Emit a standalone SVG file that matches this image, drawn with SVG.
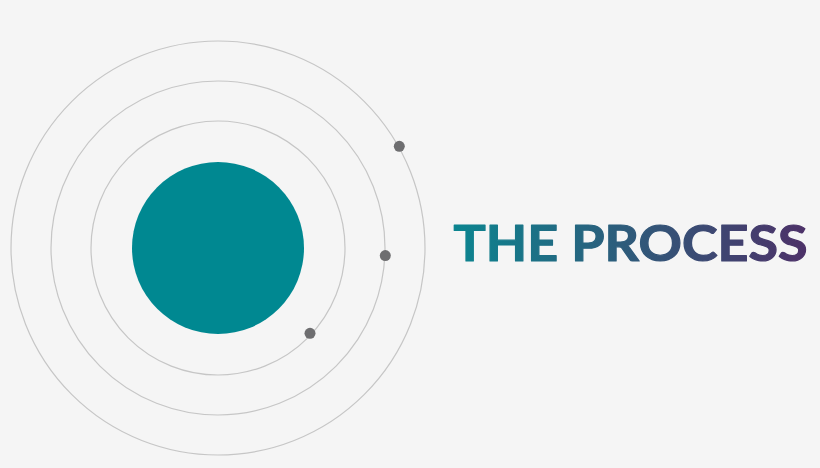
<svg xmlns="http://www.w3.org/2000/svg" width="820" height="468" viewBox="0 0 820 468">
<defs>
<linearGradient id="tg" x1="453" y1="0" x2="808" y2="0" gradientUnits="userSpaceOnUse">
<stop offset="0" stop-color="#0b8590"/>
<stop offset="0.5" stop-color="#2f5a7a"/>
<stop offset="1" stop-color="#4d3168"/>
</linearGradient>
<style>
.ring{fill:none;stroke:#c6c6c6;stroke-width:1.2}
.dot{fill:#6e6e70}
</style>
</defs>
<rect width="820" height="468" fill="#f5f5f5"/>
<g id="rings">
<circle class="ring" cx="218" cy="248" r="127"/>
<circle class="ring" cx="218" cy="248" r="167"/>
<circle class="ring" cx="218" cy="248" r="207"/>
</g>
<g id="core"><circle cx="218" cy="248" r="86" fill="#008891"/></g>
<g id="dots">
<circle class="dot" cx="399.3" cy="146.3" r="5.5"/>
<circle class="dot" cx="385.3" cy="255.6" r="5.5"/>
<circle class="dot" cx="310" cy="333.3" r="5.5"/>
</g>
<g id="title">
<text x="453.6" y="261.2" font-family="Lato, 'Open Sans', sans-serif" font-weight="bold" font-size="50" fill="url(#tg)" stroke="url(#tg)" stroke-width="1.2" stroke-linejoin="round" textLength="353.8" lengthAdjust="spacingAndGlyphs">THE PROCESS</text>
</g>
</svg>
